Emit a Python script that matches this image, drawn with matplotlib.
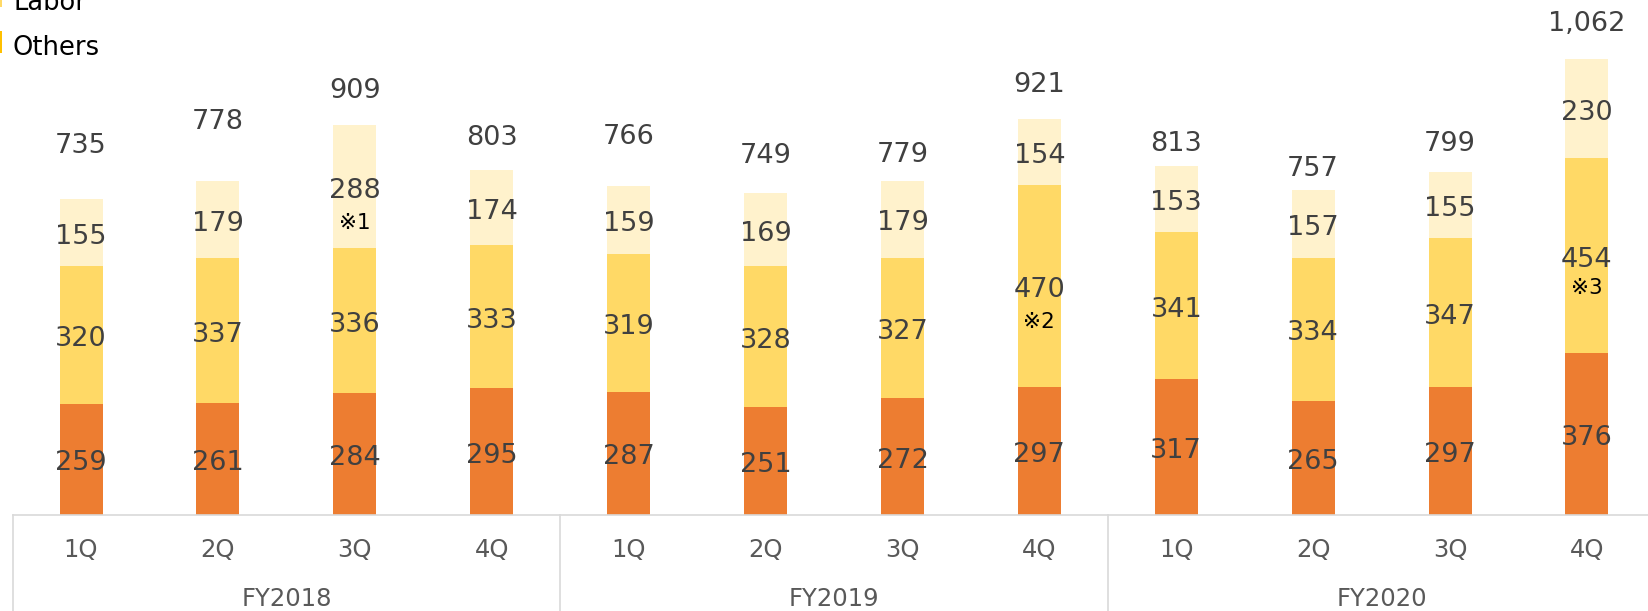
import matplotlib
matplotlib.use("Agg")
import matplotlib.pyplot as plt
from matplotlib.patches import Rectangle
import numpy as np

plt.rcParams['font.family'] = ['DejaVu Sans', 'Noto Sans CJK JP']

# data
quarters = ['1Q', '2Q', '3Q', '4Q'] * 3
years = ['FY2018', 'FY2019', 'FY2020']
material = [259, 261, 284, 295, 287, 251, 272, 297, 317, 265, 297, 376]
labor = [320, 337, 336, 333, 319, 328, 327, 470, 341, 334, 347, 454]
others = [155, 179, 288, 174, 159, 169, 179, 154, 153, 157, 155, 230]
totals = [735, 778, 909, 803, 766, 749, 779, 921, 813, 757, 799, 1062]
notes = {2: '※1', 7: '※2', 11: '※3'}

# label placement (points above bar top, Excel-style manual positions)
total_offsets = [38.6, 42.7, 24, 23.3, 35.5, 27.1, 18.7, 24.7, 16.3, 14.9, 19.7, 25.2]
note_offsets = {2: 26, 7: 26, 11: 23}

c_mat = '#ED7D31'
c_lab = '#FFD966'
c_oth = '#FFF2CC'
c_txt = '#404040'
c_axis = '#595959'
c_line = '#D9D9D9'

W, H = 1648, 611
fig = plt.figure(figsize=(W / 100, H / 100), dpi=100)
ax = fig.add_axes([12.6 / W, 96 / H, 12 * 136.9 / W, 515 / H])

x = np.arange(len(quarters))
mat = np.array(material)
lab = np.array(labor)
oth = np.array(others)
bw = 0.314

ax.bar(x, mat, bw, color=c_mat, linewidth=0)
ax.bar(x, lab, bw, bottom=mat, color=c_lab, linewidth=0)
ax.bar(x, oth, bw, bottom=mat + lab, color=c_oth, linewidth=0)

ax.set_xlim(-0.5, 11.5)
ax.set_ylim(0, 1198)
ax.axis('off')

fs = 19.5


def seg_label(i, y, v):
    ax.annotate(str(v), (i, y), xytext=(0, -3), textcoords='offset points',
                ha='center', va='center', fontsize=fs, color=c_txt)


for i in x:
    seg_label(i, mat[i] / 2, mat[i])
    seg_label(i, mat[i] + lab[i] / 2, lab[i])
    seg_label(i, mat[i] + lab[i] + oth[i] / 2, oth[i])
    top = mat[i] + lab[i] + oth[i]
    ax.annotate(f'{totals[i]:,}', (i, top), xytext=(0, total_offsets[i]), textcoords='offset points',
                ha='center', va='center', fontsize=fs, color=c_txt)

for i, n in notes.items():
    if i == 2:
        yc = mat[i] + lab[i] + oth[i] / 2
    else:
        yc = mat[i] + lab[i] / 2
    ax.annotate(n, (i, yc), xytext=(0, -note_offsets[i]), textcoords='offset points',
                ha='center', va='center', fontsize=15.5, color='black')

# category axis box
tr = ax.get_xaxis_transform()
ax.plot([-0.5, 12.5], [0, 0], color=c_line, lw=1.2, transform=tr, clip_on=False)
for xv in [-0.5, 3.5, 7.5, 11.5]:
    ax.plot([xv, xv], [0, -0.3], color=c_line, lw=1.2, transform=tr, clip_on=False)

for i in x:
    ax.annotate(quarters[i], (i, 0), xycoords=tr, xytext=(0, -25.2), textcoords='offset points',
                ha='center', va='center', fontsize=17.5, color=c_axis)
for g, yr in enumerate(years):
    ax.annotate(yr, (g * 4 + 1.5, 0), xycoords=tr, xytext=(0, -60.5), textcoords='offset points',
                ha='center', va='center', fontsize=17.5, color=c_axis)

# legend (cut off at top-left like the source)
fig.patches.append(Rectangle((-12 / W, 1 - 7 / H), 14 / W, 14 / H, transform=fig.transFigure,
                             color=c_lab, linewidth=0))
fig.patches.append(Rectangle((-12 / W, 1 - 53 / H), 14 / W, 22 / H, transform=fig.transFigure,
                             color='#FFC000', linewidth=0))
fig.text(13 / W, 1 - 10 / H, 'Labor', ha='left', va='baseline', fontsize=18.5, color='black')
fig.text(13 / W, 1 - 55 / H, 'Others', ha='left', va='baseline', fontsize=18.5, color='black')

fig.savefig('out.png', dpi=100)
